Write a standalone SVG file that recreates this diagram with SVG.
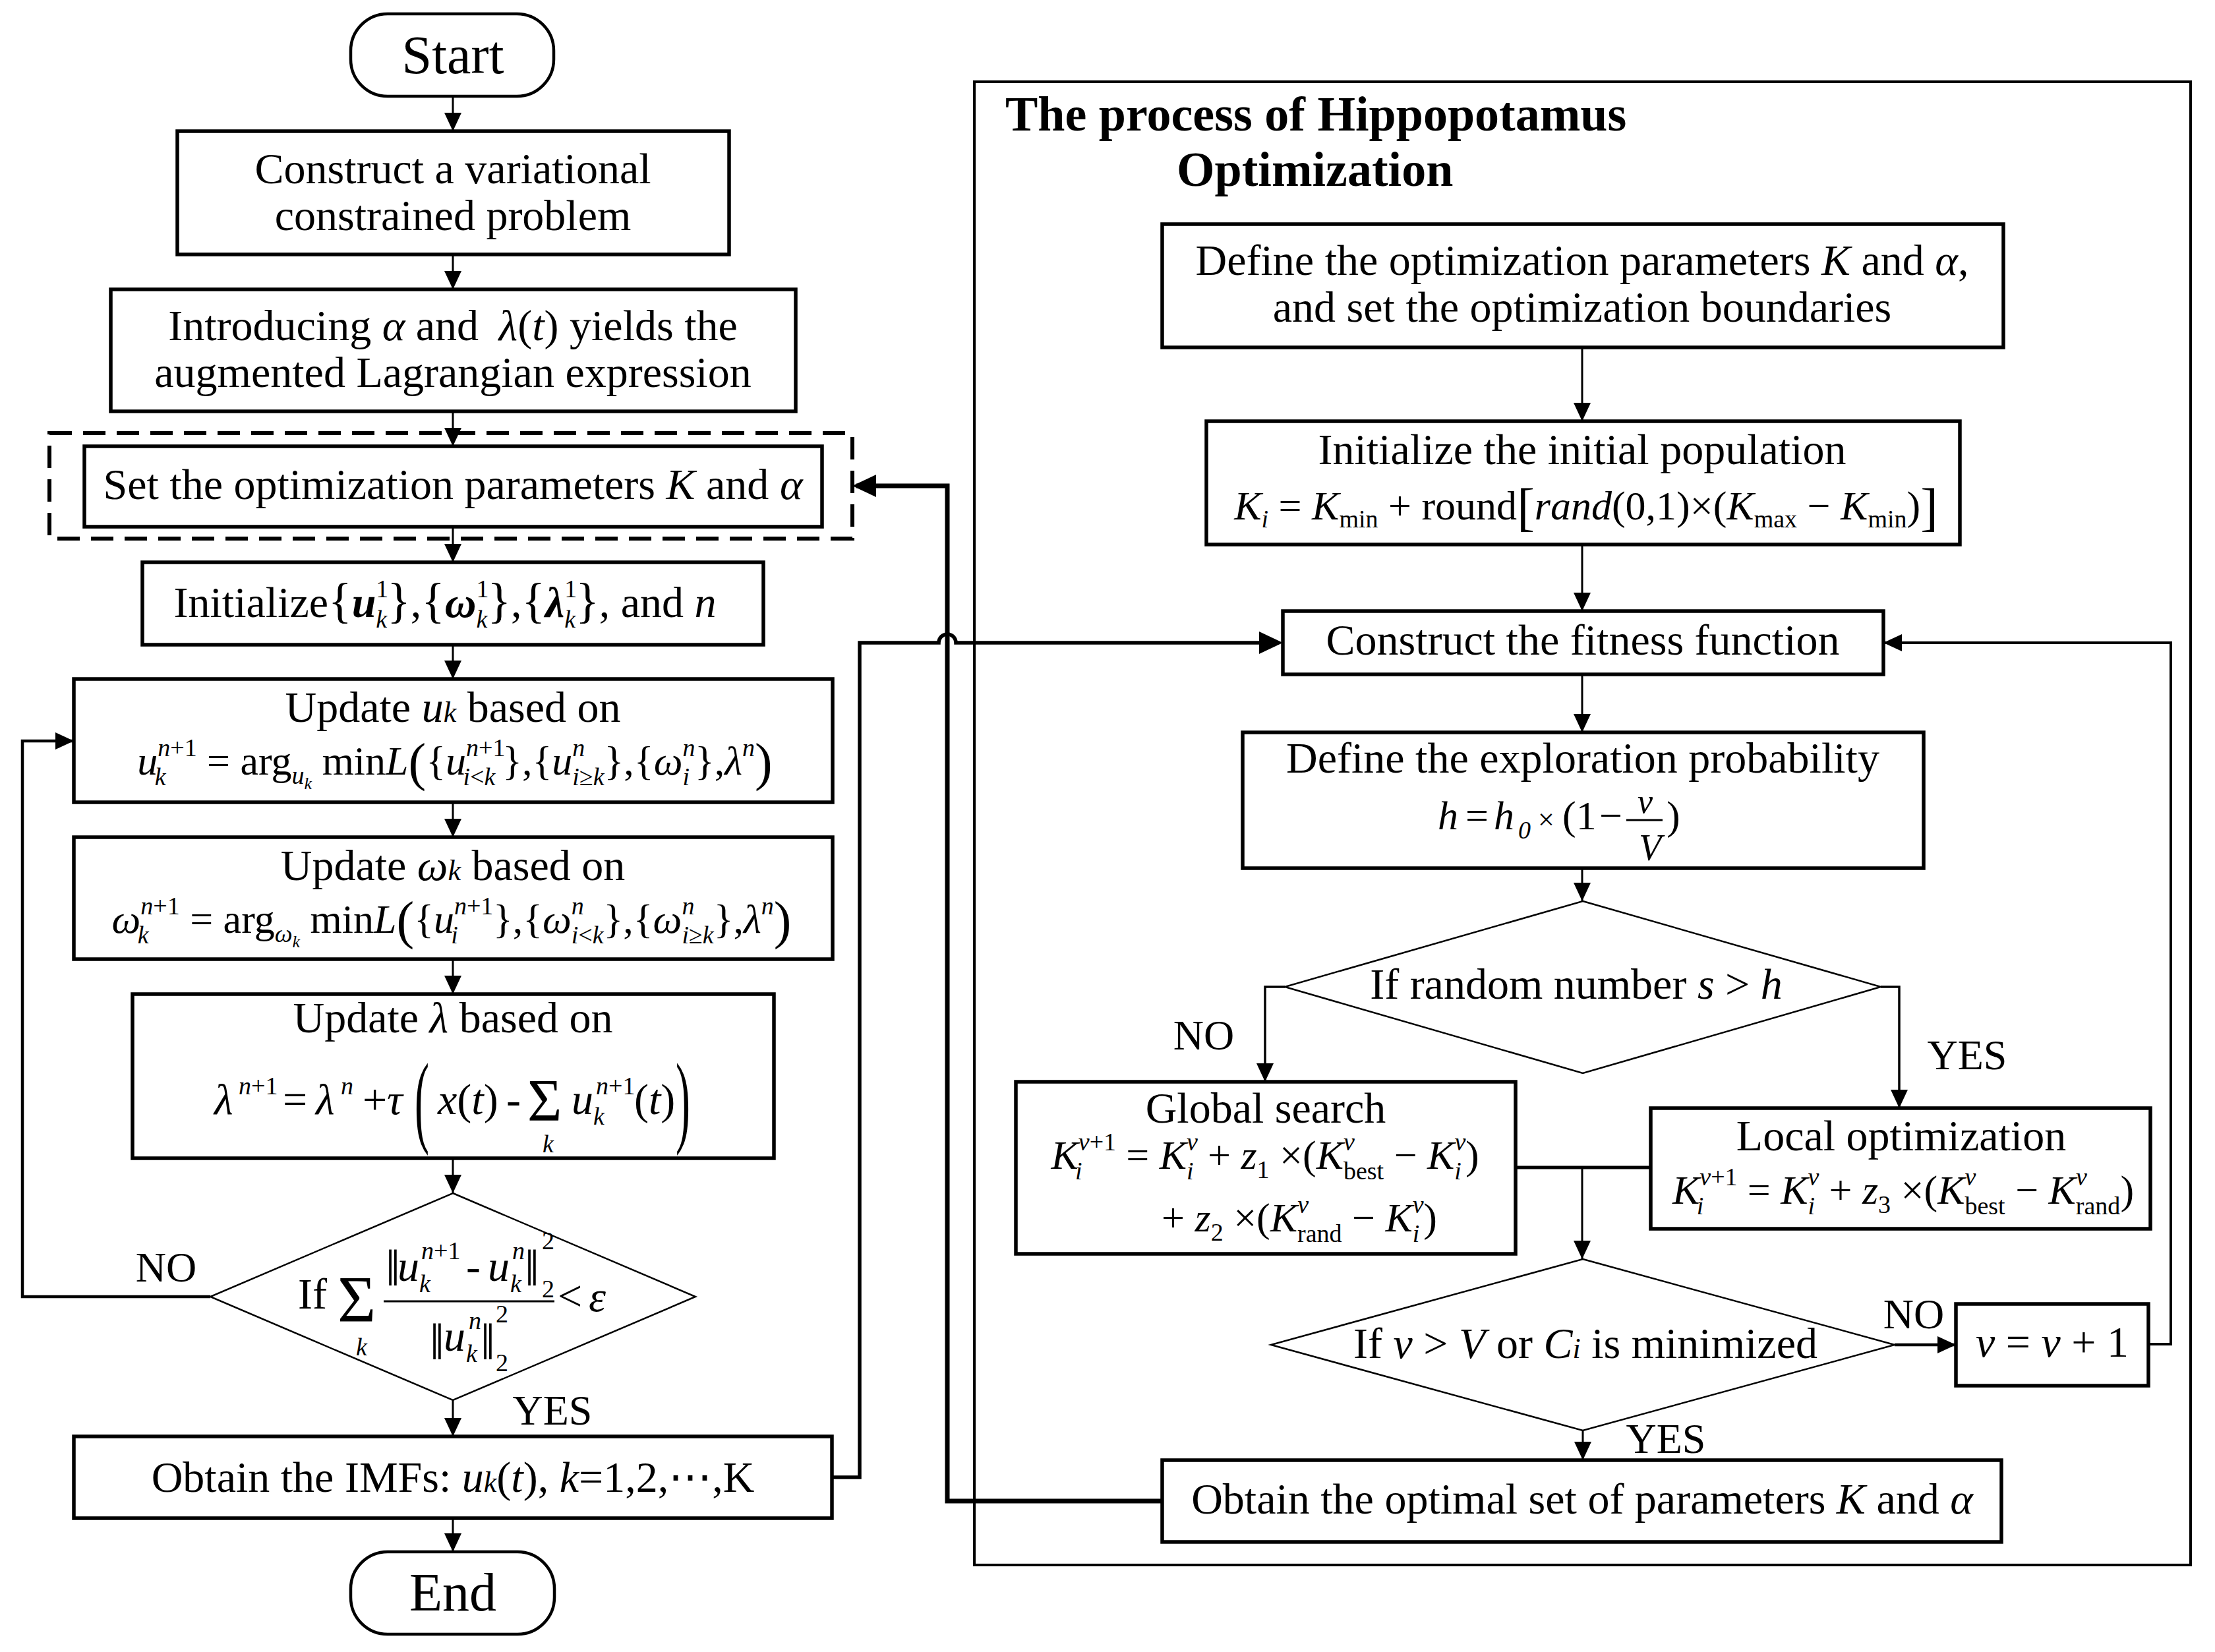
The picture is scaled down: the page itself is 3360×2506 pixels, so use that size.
<svg xmlns="http://www.w3.org/2000/svg" width="3360" height="2506" viewBox="0 0 3360 2506">
<defs>
<style>
.t{font-family:"Liberation Serif","DejaVu Serif",serif;font-size:66px;fill:#000}
.m{font-size:62px}
.i{font-style:italic}
.bi{font-style:italic;font-weight:bold}
.k{font-size:44px;font-style:italic}
.s{font-size:38px}
.ss{font-size:26px}
.br{font-size:74px}
.bp{font-size:80px}
.lb{font-size:64px}
.ttl{font-weight:bold;font-size:74px}
.box{fill:#fff;stroke:#000;stroke-width:5.5}
.term{fill:#fff;stroke:#000;stroke-width:4.5}
.dia{fill:#fff;stroke:#000;stroke-width:2.5}
.dash{fill:none;stroke:#000;stroke-width:6;stroke-dasharray:34 17}
.outer{fill:none;stroke:#000;stroke-width:4}
.c{fill:none;stroke:#000;stroke-width:3}
.cm{fill:none;stroke:#000;stroke-width:4.5}
.ct{fill:none;stroke:#000;stroke-width:7}
.bar{stroke:#000;stroke-width:3}
</style>
<marker id="a" markerUnits="userSpaceOnUse" markerWidth="30" markerHeight="28" refX="28" refY="13" orient="auto"><path d="M0,0L28,13L0,26z" fill="#000"/></marker>
<marker id="ab" markerUnits="userSpaceOnUse" markerWidth="38" markerHeight="36" refX="30" refY="17" orient="auto"><path d="M0,0L36,17L0,34z" fill="#000"/></marker>
</defs>
<rect x="0" y="0" width="3360" height="2506" fill="#fff"/>

<g id="ho-frame">
<rect class="outer" x="1478" y="124" width="1845" height="2250"/>
<text class="t ttl" x="1525" y="198">The process of Hippopotamus</text>
<text class="t ttl" x="1785" y="282">Optimization</text>
</g>

<g id="connectors">
<path class="c" marker-end="url(#a)" d="M687,146V199"/>
<path class="c" marker-end="url(#a)" d="M687,386V439"/>
<path class="c" marker-end="url(#a)" d="M687,624V677"/>
<path class="c" marker-end="url(#a)" d="M687,799V853"/>
<path class="c" marker-end="url(#a)" d="M687,978V1030"/>
<path class="c" marker-end="url(#a)" d="M687,1217V1270"/>
<path class="c" marker-end="url(#a)" d="M687,1455V1508"/>
<path class="c" marker-end="url(#a)" d="M687,1757V1810"/>
<path class="c" marker-end="url(#a)" d="M687,2124V2179"/>
<path class="c" marker-end="url(#a)" d="M687,2303V2354"/>
<path class="cm" marker-end="url(#a)" d="M319,1967H34V1124H112"/>
<path class="ct" style="stroke-width:5.5" marker-end="url(#ab)" d="M1262,2241H1304V975H1424A13,13 0 0 1 1450,975H1940"/>
<path class="ct" marker-end="url(#ab)" d="M1763,2277H1437V737H1299"/>
<path class="c" marker-end="url(#a)" d="M2400,527V639"/>
<path class="c" marker-end="url(#a)" d="M2400,826V927"/>
<path class="c" marker-end="url(#a)" d="M2400,1023V1111"/>
<path class="c" marker-end="url(#a)" d="M2400,1317V1367"/>
<path class="c" style="stroke-width:3.5" marker-end="url(#a)" d="M1949,1497H1919V1641"/>
<path class="c" style="stroke-width:3.5" marker-end="url(#a)" d="M2853,1497H2881V1681"/>
<path class="c" style="stroke-width:5" d="M2299,1771H2504"/>
<path class="c" marker-end="url(#a)" d="M2400,1771V1910"/>
<path class="cm" marker-end="url(#a)" d="M2874,2040H2967"/>
<path class="cm" style="stroke-width:4" marker-end="url(#a)" d="M3259,2039H3293V975H2857"/>
<path class="c" marker-end="url(#a)" d="M2401,2170V2215"/>
<text class="t lb" x="252" y="1944" text-anchor="middle">NO</text>
<text class="t lb" x="838" y="2161" text-anchor="middle">YES</text>
<text class="t lb" x="1826" y="1592" text-anchor="middle">NO</text>
<text class="t lb" x="2984" y="1622" text-anchor="middle">YES</text>
<text class="t lb" x="2903" y="2015" text-anchor="middle">NO</text>
<text class="t lb" x="2527" y="2204" text-anchor="middle">YES</text>
</g>

<g id="n-start">
<rect class="term" x="532" y="21" width="308" height="125" rx="56" ry="56"/>
<text class="t" style="font-size:82px" x="687" y="111" text-anchor="middle">Start</text>
</g>

<g id="n-construct">
<rect class="box" x="269" y="199" width="837" height="187"/>
<text class="t" x="687" y="278" text-anchor="middle">Construct a variational</text>
<text class="t" x="687" y="349" text-anchor="middle">constrained problem</text>
</g>

<g id="n-lagrangian">
<rect class="box" x="168" y="439" width="1039" height="185"/>
<text class="t" x="687" y="516" text-anchor="middle">Introducing <tspan class="i">α</tspan> and <tspan class="i" dx="14">λ</tspan>(<tspan class="i">t</tspan>) yields the</text>
<text class="t" x="687" y="587" text-anchor="middle">augmented Lagrangian expression</text>
</g>

<g id="n-setparams">
<rect class="dash" x="75" y="657" width="1218" height="160"/>
<rect class="box" x="128" y="677" width="1119" height="122"/>
<text class="t" x="687" y="757" text-anchor="middle">Set the optimization parameters <tspan class="i">K</tspan> and <tspan class="i">α</tspan></text>
</g>

<g id="n-init">
<rect class="box" x="216" y="853" width="942" height="125"/>
<text class="t" x="675" y="936" text-anchor="middle">Initialize<tspan class="br">{</tspan><tspan class="bi">u</tspan><tspan class="s" dy="-30">1</tspan><tspan class="s i" dx="-19" dy="46">k</tspan><tspan class="br" dy="-16">}</tspan>,<tspan class="br">{</tspan><tspan class="bi">ω</tspan><tspan class="s" dy="-30">1</tspan><tspan class="s i" dx="-19" dy="46">k</tspan><tspan class="br" dy="-16">}</tspan>,<tspan class="br">{</tspan><tspan class="bi">λ</tspan><tspan class="s" dy="-30">1</tspan><tspan class="s i" dx="-19" dy="46">k</tspan><tspan class="br" dy="-16">}</tspan>, and <tspan class="i">n</tspan></text>
</g>

<g id="n-update-u">
<rect class="box" x="112" y="1030" width="1151" height="187"/>
<text class="t" x="687" y="1095" text-anchor="middle">Update <tspan class="i">u</tspan><tspan class="k">k</tspan> based on</text>
<text class="t m" x="690" y="1175" text-anchor="middle"><tspan class="i">u</tspan><tspan class="s i" dy="-28">n</tspan><tspan class="s">+1</tspan><tspan class="s i" dx="-64" dy="44">k</tspan><tspan dx="47" dy="-16"> = arg</tspan><tspan class="s i" dy="14">u</tspan><tspan class="ss i" dy="8">k</tspan><tspan dy="-22"> min</tspan><tspan class="i">L</tspan><tspan class="bp" dy="8">(</tspan><tspan dy="-8">{</tspan><tspan class="i">u</tspan><tspan class="s i" dy="-28">n</tspan><tspan class="s">+1</tspan><tspan class="s i" dx="-64" dy="44">i</tspan><tspan class="s">&lt;</tspan><tspan class="s i">k</tspan><tspan dx="11" dy="-16">},{</tspan><tspan class="i">u</tspan><tspan class="s i" dy="-28">n</tspan><tspan class="s i" dx="-19" dy="44">i</tspan><tspan class="s">≥</tspan><tspan class="s i">k</tspan><tspan dy="-16">},{</tspan><tspan class="i">ω</tspan><tspan class="s i" dy="-28">n</tspan><tspan class="s i" dx="-19" dy="44">i</tspan><tspan dx="8" dy="-16">},</tspan><tspan class="i">λ</tspan><tspan class="s i" dy="-28">n</tspan><tspan class="bp" dy="36">)</tspan></text>
</g>

<g id="n-update-w">
<rect class="box" x="112" y="1270" width="1151" height="185"/>
<text class="t" x="687" y="1335" text-anchor="middle">Update <tspan class="i">ω</tspan><tspan class="k">k</tspan> based on</text>
<text class="t m" x="685" y="1415" text-anchor="middle"><tspan class="i">ω</tspan><tspan class="s i" dy="-28">n</tspan><tspan class="s">+1</tspan><tspan class="s i" dx="-64" dy="44">k</tspan><tspan dx="47" dy="-16"> = arg</tspan><tspan class="s i" dy="14">ω</tspan><tspan class="ss i" dy="8">k</tspan><tspan dy="-22"> min</tspan><tspan class="i">L</tspan><tspan class="bp" dy="8">(</tspan><tspan dy="-8">{</tspan><tspan class="i">u</tspan><tspan class="s i" dy="-28">n</tspan><tspan class="s">+1</tspan><tspan class="s i" dx="-64" dy="44">i</tspan><tspan dx="53" dy="-16">},{</tspan><tspan class="i">ω</tspan><tspan class="s i" dy="-28">n</tspan><tspan class="s i" dx="-19" dy="44">i</tspan><tspan class="s">&lt;</tspan><tspan class="s i">k</tspan><tspan dy="-16">},{</tspan><tspan class="i">ω</tspan><tspan class="s i" dy="-28">n</tspan><tspan class="s i" dx="-19" dy="44">i</tspan><tspan class="s">≥</tspan><tspan class="s i">k</tspan><tspan dy="-16">},</tspan><tspan class="i">λ</tspan><tspan class="s i" dy="-28">n</tspan><tspan class="bp" dy="36">)</tspan></text>
</g>

<g id="n-update-l">
<rect class="box" x="201" y="1508" width="973" height="249"/>
<text class="t" x="687" y="1566" text-anchor="middle">Update <tspan class="i">λ</tspan> based on</text>
<text class="t"><tspan class="i" x="325" y="1690">λ</tspan><tspan class="s i" x="362" y="1660">n</tspan><tspan class="s">+1</tspan><tspan x="429" y="1690">=</tspan><tspan class="i" x="479" y="1690">λ</tspan><tspan class="s i" x="517" y="1660">n</tspan><tspan x="550" y="1690">+</tspan><tspan class="i" x="587" y="1690">τ</tspan><tspan class="i" x="664" y="1690">x</tspan>(<tspan class="i">t</tspan>)<tspan x="768" y="1690">-</tspan><tspan style="font-size:90px" x="800" y="1700">Σ</tspan><tspan class="s i" x="823" y="1748">k</tspan><tspan class="i" x="867" y="1690">u</tspan><tspan class="s i" x="904" y="1660">n</tspan><tspan class="s">+1</tspan><tspan class="s i" x="900" y="1706">k</tspan><tspan x="962" y="1690">(</tspan><tspan class="i">t</tspan>)</text>
<text class="t" transform="translate(629,1720) scale(1,2.35)">(</text>
<text class="t" transform="translate(1025,1720) scale(1,2.35)">)</text>
</g>

<g id="n-check-conv">
<polygon class="dia" points="687,1810 1055,1967 687,2124 319,1967"/>
<text class="t"><tspan x="452" y="1985">If</tspan><tspan style="font-size:100px" x="512" y="2004">Σ</tspan><tspan class="s i" x="540" y="2056">k</tspan><tspan style="font-size:78px" x="585" y="1950">‖</tspan><tspan class="i" x="603" y="1943">u</tspan><tspan class="s i" x="639" y="1910">n</tspan><tspan class="s">+1</tspan><tspan class="s i" x="636" y="1960">k</tspan><tspan x="707" y="1943">-</tspan><tspan class="i" x="740" y="1943">u</tspan><tspan class="s i" x="777" y="1910">n</tspan><tspan class="s i" x="774" y="1960">k</tspan><tspan style="font-size:78px" x="796" y="1950">‖</tspan><tspan class="s" x="822" y="1895">2</tspan><tspan class="s" x="822" y="1968">2</tspan><tspan style="font-size:78px" x="652" y="2062">‖</tspan><tspan class="i" x="673" y="2049">u</tspan><tspan class="s i" x="711" y="2016">n</tspan><tspan class="s i" x="707" y="2066">k</tspan><tspan style="font-size:78px" x="729" y="2062">‖</tspan><tspan class="s" x="752" y="2006">2</tspan><tspan class="s" x="752" y="2080">2</tspan><tspan x="846" y="1988">&lt;</tspan><tspan class="i" x="893" y="1989">ε</tspan></text>
<line class="bar" x1="582" y1="1974" x2="841" y2="1974"/>
</g>

<g id="n-imfs">
<rect class="box" x="112" y="2179" width="1150" height="124"/>
<text class="t" x="687" y="2263" text-anchor="middle">Obtain the IMFs: <tspan class="i">u</tspan><tspan class="k">k</tspan>(<tspan class="i">t</tspan>), <tspan class="i">k</tspan>=1,2,⋯,K</text>
</g>

<g id="n-end">
<rect class="term" x="532" y="2354" width="309" height="125" rx="56" ry="56"/>
<text class="t" style="font-size:82px" x="687" y="2443" text-anchor="middle">End</text>
</g>

<g id="n-define">
<rect class="box" x="1763" y="340" width="1276" height="187"/>
<text class="t" x="2400" y="417" text-anchor="middle">Define the optimization parameters <tspan class="i">K</tspan> and <tspan class="i">α</tspan>,</text>
<text class="t" x="2400" y="488" text-anchor="middle">and set the optimization boundaries</text>
</g>

<g id="n-initpop">
<rect class="box" x="1830" y="639" width="1143" height="187"/>
<text class="t" x="2400" y="704" text-anchor="middle">Initialize the initial population</text>
<text class="t m" x="2406" y="788" text-anchor="middle"><tspan class="i">K</tspan><tspan class="s i" dy="12">i</tspan><tspan dy="-12"> = </tspan><tspan class="i">K</tspan><tspan class="s" dy="12">min</tspan><tspan dy="-12"> + round</tspan><tspan class="bp" dy="8">[</tspan><tspan class="i" dy="-8">rand</tspan>(0,1)×(<tspan class="i">K</tspan><tspan class="s" dy="12">max</tspan><tspan dy="-12"> − </tspan><tspan class="i">K</tspan><tspan class="s" dy="12">min</tspan><tspan dy="-12">)</tspan><tspan class="bp" dy="8">]</tspan></text>
</g>

<g id="n-fitness">
<rect class="box" x="1946" y="927" width="911" height="96"/>
<text class="t" x="2401" y="993" text-anchor="middle">Construct the fitness function</text>
</g>

<g id="n-explore">
<rect class="box" x="1885" y="1111" width="1033" height="206"/>
<text class="t" x="2401" y="1172" text-anchor="middle">Define the exploration probability</text>
<text class="t m"><tspan class="i" x="2181" y="1258">h</tspan><tspan x="2223" y="1258">=</tspan><tspan class="i" x="2266" y="1258">h</tspan><tspan class="s i" x="2303" y="1272">0</tspan><tspan style="font-size:44px" x="2333" y="1258">×</tspan><tspan x="2370" y="1258">(1</tspan><tspan x="2426" y="1258">−</tspan><tspan class="i" style="font-size:52px" x="2484" y="1233">v</tspan><tspan class="i" style="font-size:56px" x="2486" y="1305">V</tspan><tspan x="2528" y="1258">)</tspan></text>
<line class="bar" x1="2467" y1="1244" x2="2522" y2="1244"/>
</g>

<g id="n-random">
<polygon class="dia" points="2401,1367 2853,1497 2401,1628 1949,1497"/>
<text class="t" x="2391" y="1515" text-anchor="middle">If random number <tspan class="i">s</tspan> &gt; <tspan class="i">h</tspan></text>
</g>

<g id="n-global">
<rect class="box" x="1541" y="1641" width="758" height="261"/>
<text class="t" x="1920" y="1703" text-anchor="middle">Global search</text>
<text class="t m" x="1919" y="1773" text-anchor="middle"><tspan class="i">K</tspan><tspan class="s i" dy="-28">v</tspan><tspan class="s">+1</tspan><tspan class="s i" dx="-62" dy="44">i</tspan><tspan dx="51" dy="-16"> = </tspan><tspan class="i">K</tspan><tspan class="s i" dy="-28">v</tspan><tspan class="s i" dx="-17" dy="44">i</tspan><tspan dx="6" dy="-16"> + </tspan><tspan class="i">z</tspan><tspan class="s" dy="14">1</tspan><tspan dy="-14"> ×(</tspan><tspan class="i">K</tspan><tspan class="s i" dy="-28">v</tspan><tspan class="s" dx="-17" dy="44">best</tspan><tspan dy="-16"> − </tspan><tspan class="i">K</tspan><tspan class="s i" dy="-28">v</tspan><tspan class="s i" dx="-17" dy="44">i</tspan><tspan dx="6" dy="-16">)</tspan></text>
<text class="t m" x="1971" y="1868" text-anchor="middle">+ <tspan class="i">z</tspan><tspan class="s" dy="14">2</tspan><tspan dy="-14"> ×(</tspan><tspan class="i">K</tspan><tspan class="s i" dy="-28">v</tspan><tspan class="s" dx="-17" dy="44">rand</tspan><tspan dy="-16"> − </tspan><tspan class="i">K</tspan><tspan class="s i" dy="-28">v</tspan><tspan class="s i" dx="-17" dy="44">i</tspan><tspan dx="6" dy="-16">)</tspan></text>
</g>

<g id="n-local">
<rect class="box" x="2504" y="1681" width="758" height="183"/>
<text class="t" x="2884" y="1745" text-anchor="middle">Local optimization</text>
<text class="t m" x="2887" y="1826" text-anchor="middle"><tspan class="i">K</tspan><tspan class="s i" dy="-28">v</tspan><tspan class="s">+1</tspan><tspan class="s i" dx="-62" dy="44">i</tspan><tspan dx="51" dy="-16"> = </tspan><tspan class="i">K</tspan><tspan class="s i" dy="-28">v</tspan><tspan class="s i" dx="-17" dy="44">i</tspan><tspan dx="6" dy="-16"> + </tspan><tspan class="i">z</tspan><tspan class="s" dy="14">3</tspan><tspan dy="-14"> ×(</tspan><tspan class="i">K</tspan><tspan class="s i" dy="-28">v</tspan><tspan class="s" dx="-17" dy="44">best</tspan><tspan dy="-16"> − </tspan><tspan class="i">K</tspan><tspan class="s i" dy="-28">v</tspan><tspan class="s" dx="-17" dy="44">rand</tspan><tspan dy="-16">)</tspan></text>
</g>

<g id="n-stop">
<polygon class="dia" points="2401,1910 2874,2040 2401,2170 1928,2040"/>
<text class="t" x="2405" y="2060" text-anchor="middle">If <tspan class="i">v</tspan> &gt; <tspan class="i">V</tspan> or <tspan class="i">C</tspan><tspan class="k">i</tspan> is minimized</text>
</g>

<g id="n-increment">
<rect class="box" x="2967" y="1978" width="292" height="124"/>
<text class="t" x="3113" y="2058" text-anchor="middle"><tspan class="i">v</tspan> = <tspan class="i">v</tspan> + 1</text>
</g>

<g id="n-optimal">
<rect class="box" x="1763" y="2215" width="1273" height="124"/>
<text class="t" x="2400" y="2296" text-anchor="middle">Obtain the optimal set of parameters <tspan class="i">K</tspan> and <tspan class="i">α</tspan></text>
</g>
</svg>
